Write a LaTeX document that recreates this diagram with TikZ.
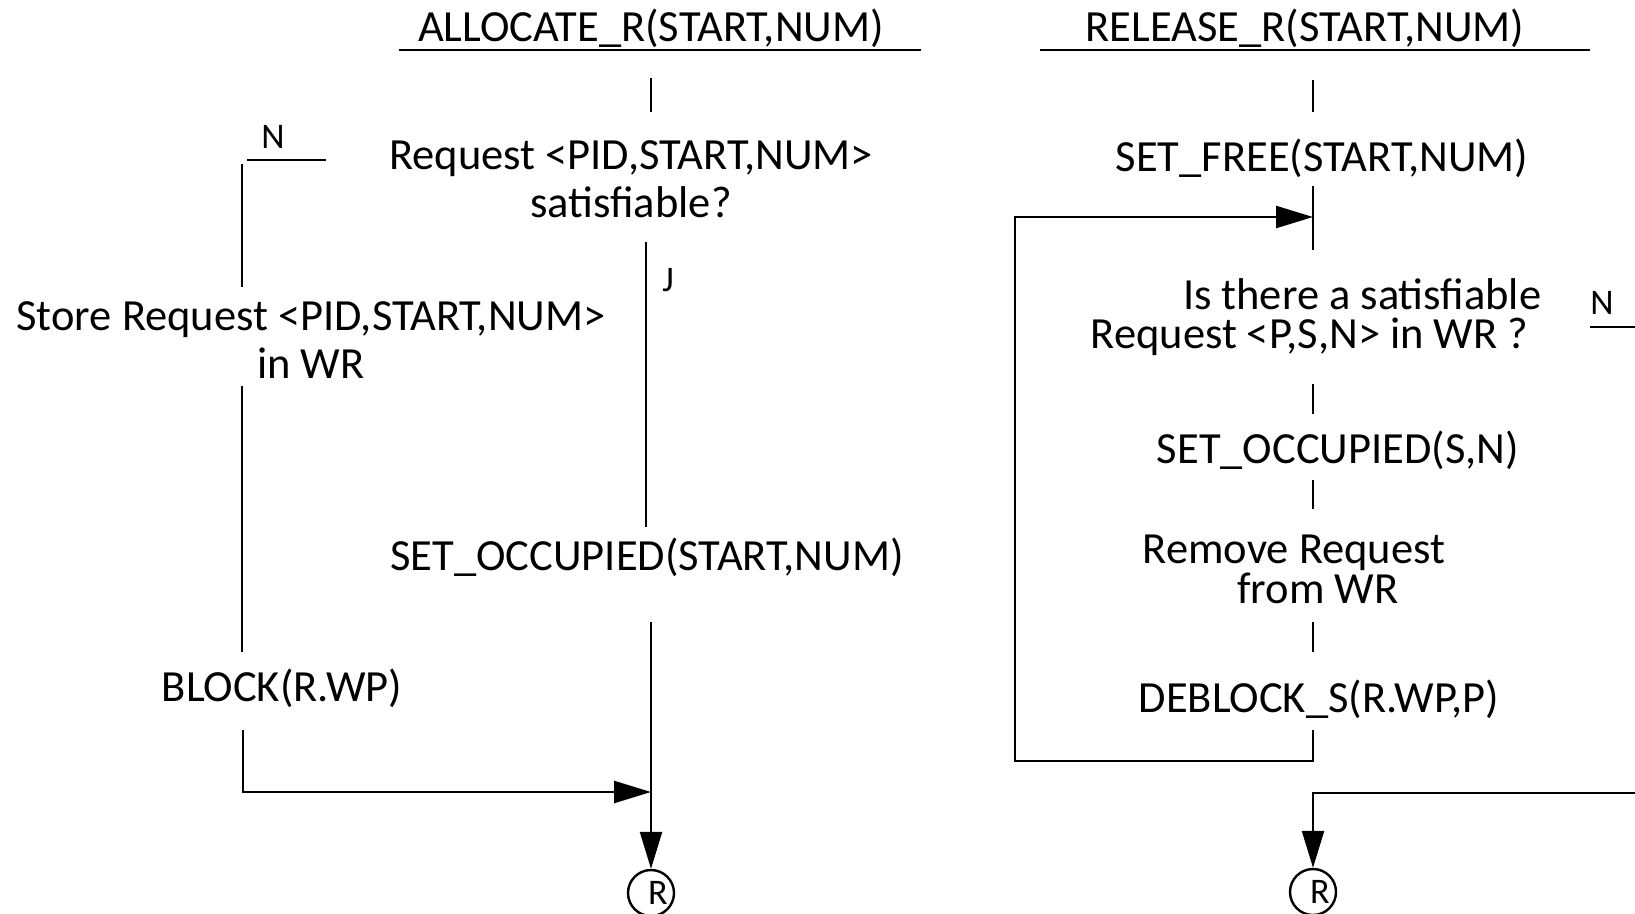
\documentclass[tikz,border=0pt]{standalone}
\usepackage{fontspec}
\setmainfont{Carlito}
\usetikzlibrary{arrows.meta}
\begin{document}
\begin{tikzpicture}[x=1pt,y=-1pt,
  lbl/.style={inner sep=0pt, font=\fontsize{44.5}{48}\selectfont, align=center},
  tag/.style={inner sep=0pt, font=\fontsize{36}{40}\selectfont},
  flow/.style={line width=2.4pt},
  arr/.style={line width=2.4pt, -{Triangle[length=37pt,width=22pt]}},
  conn/.style={circle, draw, line width=2.4pt, minimum size=46pt, inner sep=0pt,
               font=\fontsize{36}{38}\selectfont}
]
\useasboundingbox (0,0) rectangle (1635,913);

% ---------------- ALLOCATE_R ----------------
\node[lbl] (atitle) at (651,28) {ALLOCATE\_R(START,NUM)};
\draw[flow] (399,50) -- (921,50);
\draw[flow] (651,78) -- (651,112);
\node[lbl] (adec) at (631,179) {Request <PID,START,NUM>\\satisfiable?};
\node[tag] (an) at (273,137) {N};
\node[tag] (aj) at (668,280) {J};
\node[lbl] (store) at (311,340) {Store Request <PID,START,NUM>\\in WR};
\node[lbl] (block) at (282,688) {BLOCK(R.WP)};
\node[lbl] (aocc) at (647,557) {SET\_OCCUPIED(START,NUM)};
\node[conn] (ar) at (651,893) {\kern14pt R};

% no-branch towards the waiting room
\draw[flow] (326,160) -- (247,160);
\draw[flow] (242,164) -- (242,287);
\draw[flow] (242,386) -- (242,652);
\draw[arr] (243,730) -- (243,792) -- (651,792);
% yes-branch
\draw[flow] (646,242) -- (646,527);
\draw[arr] (651,622) -- (ar.north);

% ---------------- RELEASE_R ----------------
\node[lbl] (rtitle) at (1305,28) {RELEASE\_R(START,NUM)};
\draw[flow] (1040,50) -- (1590,50);
\draw[flow] (1313,80) -- (1313,112);
\node[lbl] (free) at (1322,158) {SET\_FREE(START,NUM)};
\draw[flow] (1313,186) -- (1313,250);
\node[lbl, align=right] (rdec) at (1316,317)
  {Is there a satisfiable\\[-9pt]Request <P,S,N> in WR ?\hspace*{13pt}};
\node[tag] (rn) at (1602,303) {N};
\draw[flow] (1590,327) -- (1635,327);
\draw[flow] (1313,384) -- (1313,414);
\node[lbl] (rocc) at (1338,450) {SET\_OCCUPIED(S,N)};
\draw[flow] (1313,480) -- (1313,509);
\node[lbl] (remove) at (1294,569) {Remove Request\\[-8pt]\hspace*{48pt}from WR};
\draw[flow] (1313,622) -- (1313,652);
\node[lbl] (deblock) at (1319,699) {DEBLOCK\_S(R.WP,P)};

% loop back to the test
\draw[arr] (1313,730) -- (1313,761) -- (1015,761) -- (1015,217) -- (1313,217);

% exit when no request is satisfiable
\node[conn] (rr) at (1313,892) {\kern14pt R};
\draw[arr] (1635,793) -- (1313,793) -- (rr.north);
\end{tikzpicture}
\end{document}
